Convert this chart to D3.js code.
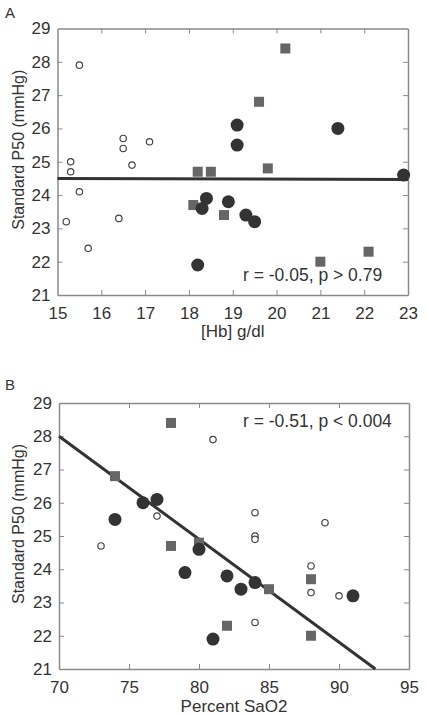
<!DOCTYPE html>
<html><head><meta charset="utf-8">
<script src="https://cdn.jsdelivr.net/npm/d3@7"></script>
<style>html,body{margin:0;padding:0;background:#fff;}svg{display:block;font-family:"Liberation Sans",Arial,sans-serif;}</style>
</head><body>
<svg id="chart" width="428" height="717"></svg>
<script>
// ---- Panel A data: [Hb] g/dl vs Standard P50 ----
const aOpenX   = [15.5, 15.3, 15.3, 16.5, 16.5, 16.7, 17.1, 15.5, 15.2, 15.7, 16.4];
const aOpenY   = [27.9, 25.0, 24.7, 25.7, 25.4, 24.9, 25.6, 24.1, 23.2, 22.4, 23.3];
const aFilledX = [19.1, 19.1, 21.4, 22.9, 18.4, 18.3, 18.9, 18.2, 19.3, 19.5];
const aFilledY = [26.1, 25.5, 26.0, 24.6, 23.9, 23.6, 23.8, 21.9, 23.4, 23.2];
const aSquareX = [18.2, 18.5, 20.2, 19.6, 19.8, 18.1, 18.8, 21.0, 22.1];
const aSquareY = [24.7, 24.7, 28.4, 26.8, 24.8, 23.7, 23.4, 22.0, 22.3];
const aFitX = [15, 23];
const aFitY = [24.50, 24.47];
const aXTicks = [15, 16, 17, 18, 19, 20, 21, 22, 23];
const aNote = "r = -0.05, p > 0.79";

// ---- Panel B data: Percent SaO2 vs Standard P50 ----
const bOpenX   = [81, 77, 73, 84, 84, 84, 89, 88, 88, 90, 84];
const bOpenY   = [27.9, 25.6, 24.7, 25.7, 25.0, 24.9, 25.4, 24.1, 23.3, 23.2, 22.4];
const bFilledX = [74, 76, 77, 80, 79, 82, 83, 84, 81, 91];
const bFilledY = [25.5, 26.0, 26.1, 24.6, 23.9, 23.8, 23.4, 23.6, 21.9, 23.2];
const bSquareX = [78, 74, 78, 80, 82, 85, 88, 88];
const bSquareY = [28.4, 26.8, 24.7, 24.8, 22.3, 23.4, 23.7, 22.0];
const bFitX = [70, 92.6];
const bFitY = [28.0, 21.0];
const bXTicks = [70, 75, 80, 85, 90, 95];
const bNote = "r = -0.51, p < 0.004";

const yTicks = [21, 22, 23, 24, 25, 26, 27, 28, 29];
const yLabel = "Standard P50 (mmHg)";

const svg = d3.select("#chart");
const axisColor = "#8a8a8a";
const textColor = "#333";

function zip(xs, ys) { return xs.map((x, i) => [x, ys[i]]); }

function panel(cfg) {
  const x = d3.scaleLinear().domain(cfg.xDomain).range([cfg.left, cfg.right]);
  const y = d3.scaleLinear().domain([21, 29]).range([cfg.bottom, cfg.top]);
  const g = svg.append("g");

  // frame axes with inward ticks
  const tick = -5;
  const bottomAx = g.append("g").attr("transform", `translate(0,${cfg.bottom})`)
    .call(d3.axisBottom(x).tickValues(cfg.xTicks).tickSizeInner(tick).tickSizeOuter(0).tickPadding(12).tickFormat(d3.format("d")));
  const topAx = g.append("g").attr("transform", `translate(0,${cfg.top})`)
    .call(d3.axisTop(x).tickValues(cfg.xTicks).tickSizeInner(tick).tickSizeOuter(0).tickFormat(""));
  const leftAx = g.append("g").attr("transform", `translate(${cfg.left},0)`)
    .call(d3.axisLeft(y).tickValues(yTicks).tickSizeInner(tick).tickSizeOuter(0).tickPadding(7).tickFormat(d3.format("d")));
  const rightAx = g.append("g").attr("transform", `translate(${cfg.right},0)`)
    .call(d3.axisRight(y).tickValues(yTicks).tickSizeInner(tick).tickSizeOuter(0).tickFormat(""));
  [bottomAx, topAx, leftAx, rightAx].forEach(a => {
    a.selectAll("path.domain").attr("stroke", axisColor).attr("stroke-width", 1.5);
    a.selectAll(".tick line").attr("stroke", axisColor).attr("stroke-width", 1);
    a.selectAll("text").attr("fill", textColor).attr("font-size", 17).attr("font-family", '"Liberation Sans",Arial,sans-serif');
  });
  // remove end ticks on top/bottom/left/right that coincide with frame corners
  [bottomAx, topAx].forEach(a => a.selectAll(".tick line").filter(d => d === cfg.xDomain[0] || d === cfg.xDomain[1]).remove());
  [leftAx, rightAx].forEach(a => a.selectAll(".tick line").filter(d => d === 21 || d === 29).remove());

  // regression line
  const fit = zip(cfg.fitX, cfg.fitY);
  g.append("path").attr("d", d3.line().x(d => x(d[0])).y(d => y(d[1]))(fit))
    .attr("stroke", "#333").attr("stroke-width", 3).attr("fill", "none");

  // open circles
  g.selectAll(".open").data(zip(cfg.openX, cfg.openY)).join("circle")
    .attr("cx", d => x(d[0])).attr("cy", d => y(d[1])).attr("r", 3.2)
    .attr("fill", "#fff").attr("stroke", "#444").attr("stroke-width", 1.2);
  // squares
  const s = 10;
  g.selectAll(".sq").data(zip(cfg.squareX, cfg.squareY)).join("rect")
    .attr("x", d => x(d[0]) - s / 2).attr("y", d => y(d[1]) - s / 2)
    .attr("width", s).attr("height", s).attr("fill", "#666");
  // filled circles
  g.selectAll(".fc").data(zip(cfg.filledX, cfg.filledY)).join("circle")
    .attr("cx", d => x(d[0])).attr("cy", d => y(d[1])).attr("r", 6.5)
    .attr("fill", "#333");

  // labels
  g.append("text").attr("x", (cfg.left + cfg.right) / 2).attr("y", cfg.xLabelY)
    .attr("text-anchor", "middle").attr("font-size", 17).attr("fill", textColor).text(cfg.xLabel);
  const ly = (cfg.top + cfg.bottom) / 2 - 12;
  g.append("text").attr("transform", `translate(${cfg.yLabelX},${ly}) rotate(-90)`)
    .attr("text-anchor", "middle").attr("font-size", 16).attr("fill", textColor).text(yLabel);
  g.append("text").attr("x", cfg.noteX).attr("y", cfg.noteY)
    .attr("font-size", 17.5).attr("fill", textColor).text(cfg.note);
  g.append("text").attr("x", 5).attr("y", cfg.letterY)
    .attr("font-size", 15).attr("fill", textColor).text(cfg.letter);
}

panel({
  xDomain: [15, 23], left: 57.5, right: 408, top: 28.5, bottom: 295,
  xTicks: aXTicks, openX: aOpenX, openY: aOpenY, filledX: aFilledX, filledY: aFilledY,
  squareX: aSquareX, squareY: aSquareY, fitX: aFitX, fitY: aFitY,
  xLabel: "[Hb] g/dl", xLabelY: 337, yLabelX: 24, note: aNote, noteX: 243, noteY: 281,
  letter: "A", letterY: 18
});
panel({
  xDomain: [70, 95], left: 59, right: 409, top: 403, bottom: 669,
  xTicks: bXTicks, openX: bOpenX, openY: bOpenY, filledX: bFilledX, filledY: bFilledY,
  squareX: bSquareX, squareY: bSquareY, fitX: bFitX, fitY: bFitY,
  xLabel: "Percent SaO2", xLabelY: 712, yLabelX: 24, note: bNote, noteX: 243, noteY: 427,
  letter: "B", letterY: 390
});
</script>
</body></html>
